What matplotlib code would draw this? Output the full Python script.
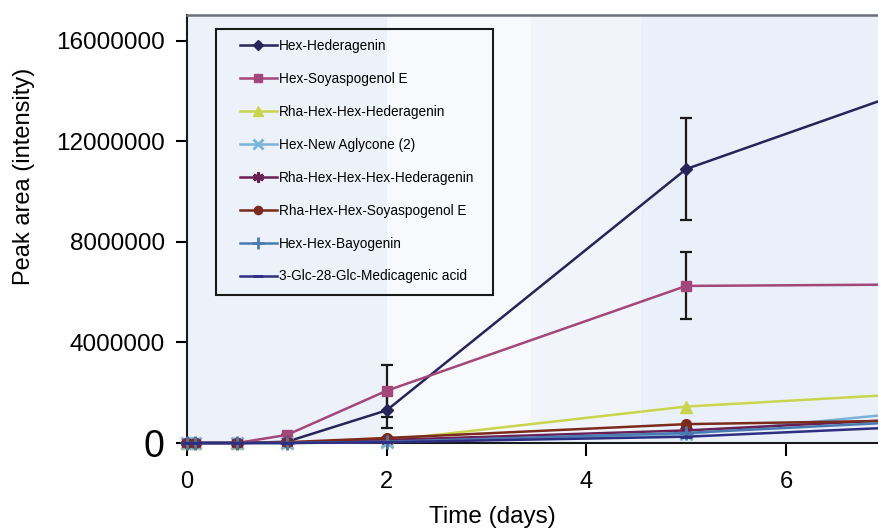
import matplotlib
matplotlib.use("Agg")
import matplotlib.pyplot as plt
from matplotlib.patches import Rectangle

plt.rcParams['font.family'] = ['Liberation Sans', 'DejaVu Sans']

# ---------------- data ----------------
times = [0, 0.083, 0.5, 1, 2, 5, 7]
series_names = [
    "Hex-Hederagenin",
    "Hex-Soyaspogenol E",
    "Rha-Hex-Hex-Hederagenin",
    "Hex-New Aglycone (2)",
    "Rha-Hex-Hex-Hex-Hederagenin",
    "Rha-Hex-Hex-Soyaspogenol E",
    "Hex-Hex-Bayogenin",
    "3-Glc-28-Glc-Medicagenic acid",
]
hex_hederagenin = [0, 0, 0, 0.05e6, 1.30e6, 10.90e6, 13.70e6]
hex_soyaspogenol = [0, 0, 0, 0.32e6, 2.08e6, 6.25e6, 6.30e6]
rha_hex_hex_hed = [0, 0, 0, 0.02e6, 0.10e6, 1.45e6, 1.90e6]
hex_new_aglycone = [0, 0, 0, 0, 0.05e6, 0.35e6, 1.12e6]
rha_hex3_hed = [0, 0, 0, 0.02e6, 0.12e6, 0.50e6, 0.90e6]
rha_hex_hex_soya = [0, 0, 0, 0.03e6, 0.20e6, 0.75e6, 0.88e6]
hex_hex_bayogenin = [0, 0, 0, 0, 0.05e6, 0.40e6, 0.80e6]
glc_medicagenic = [0, 0, 0, 0, 0.03e6, 0.25e6, 0.60e6]

err_hex_hederagenin = [0, 0, 0, 0, 0.70e6, 2.03e6, 1.90e6]
err_hex_soyaspogenol = [0, 0, 0, 0, 1.03e6, 1.33e6, 2.25e6]

values = [hex_hederagenin, hex_soyaspogenol, rha_hex_hex_hed, hex_new_aglycone,
          rha_hex3_hed, rha_hex_hex_soya, hex_hex_bayogenin, glc_medicagenic]
errors = [err_hex_hederagenin, err_hex_soyaspogenol, None, None, None, None, None, None]

colors = ['#27245a', '#a3467a', '#c9d54c', '#7ab2da', '#6a1f55', '#7c2a1c', '#4a7ab2', '#2e2e82']
markers = ['D', 's', '^', 'x', (6, 2, 0), 'o', '+', '_']
msizes = [6, 7, 8, 8, 9, 7, 10, 8]

yticks = [0, 4000000, 8000000, 12000000, 16000000]
xticks = [0, 2, 4, 6]

# ---------------- figure ----------------
W, H = 879, 530
fig = plt.figure(figsize=(W / 100, H / 100), dpi=100)
fig.patch.set_facecolor('white')
x0_px, y0_px, ytop_px = 187, 443, 15
px_per_unit = 99.83
x_right = 8
ax = fig.add_axes([x0_px / W, (H - y0_px) / H,
                   px_per_unit * x_right / W, (y0_px - ytop_px) / H])
ax.set_facecolor('#edf2fa')
ax.set_xlim(0, x_right)
ax.set_ylim(0, 17.03e6)

# faint scanned-background bands
ax.axvspan(2.0, 3.45, color='#f7f9fd', zorder=0, lw=0)
ax.axvspan(3.45, 4.55, color='#f1f5fb', zorder=0, lw=0)
ax.axvspan(4.55, 8.0, color='#eaf0f9', zorder=0, lw=0)

handles = []
for name, v, e, c, m, ms in zip(series_names, values, errors, colors, markers, msizes):
    if e is not None:
        ax.errorbar(times, v, yerr=e, fmt='none', ecolor='#1a1a1a', elinewidth=1.6,
                    capsize=4.5, capthick=1.6, zorder=2, clip_on=False)
    mew = 2.0 if m in ('x', '+', '_', (6, 2, 0)) else 1.0
    ln, = ax.plot(times, v, color=c, marker=m, markersize=ms, linewidth=1.8,
                  markeredgewidth=mew, markeredgecolor=c, label=name, zorder=3,
                  clip_on=False)
    handles.append(ln)

ax.set_xticks(xticks)
ax.set_yticks(yticks)
ax.set_yticklabels([str(t) for t in yticks])
ax.tick_params(axis='y', direction='out', length=8, width=1.5, pad=8, labelsize=17.5)
ax.tick_params(axis='x', direction='out', length=9, width=1.5, pad=11, labelsize=17)
for lab in ax.get_yticklabels():
    if lab.get_text() == '0':
        lab.set_fontsize(27)

for s in ['left', 'bottom']:
    ax.spines[s].set_color('#1a1a1a')
    ax.spines[s].set_linewidth(1.5)
ax.spines['top'].set_color('#6a6f7a')
ax.spines['top'].set_linewidth(1.8)
ax.spines['right'].set_visible(False)

fig.text(24 / W, 1 - 176 / H, 'Peak area (intensity)', rotation=90,
         ha='center', va='center', fontsize=17)
fig.text(492 / W, 1 - 523 / H, 'Time (days)', ha='center', va='baseline', fontsize=17.5)

# legend
leg = fig.legend(handles=handles, loc='upper left',
                 bbox_to_anchor=(240 / W, 1 - 39 / H), frameon=False,
                 fontsize=9.8, handlelength=2.7, handletextpad=0.15,
                 labelspacing=1.39, borderpad=0, borderaxespad=0)
for lh in leg.legend_handles:
    lh.set_markersize(lh.get_markersize() * 0.85)

fig.add_artist(Rectangle((216 / W, 1 - 295 / H), (493 - 216) / W, (295 - 29) / H,
                         transform=fig.transFigure, fill=False,
                         edgecolor='#1a1a1a', linewidth=1.5, zorder=5))

fig.savefig('out.png', dpi=100)
